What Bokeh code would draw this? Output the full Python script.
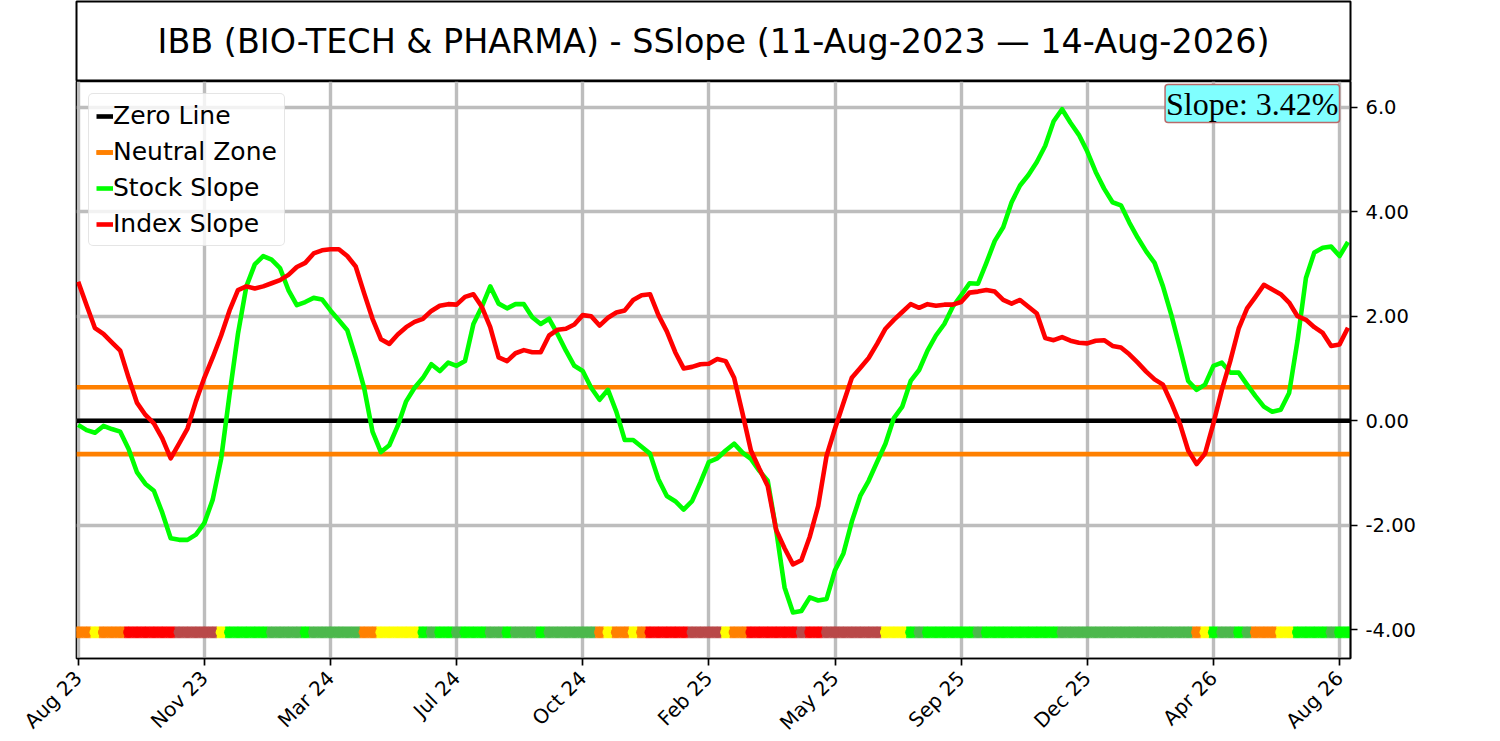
import math
from bokeh.plotting import figure
from bokeh.models import FixedTicker, Label, Legend, LegendItem, Range1d
from bokeh.layouts import column
from bokeh.embed import file_html
from bokeh.resources import INLINE

TITLE = "IBB (BIO-TECH & PHARMA) - SSlope (11-Aug-2023 \u2014 14-Aug-2026)"

tick_index = [0, 15, 30, 45, 60, 75, 90, 105, 120, 135, 150]
tick_labels = ["Aug 23", "Nov 23", "Mar 24", "Jul 24", "Oct 24", "Feb 25",
               "May 25", "Sep 25", "Dec 25", "Apr 26", "Aug 26"]

y_ticks = [-4, -2, 0, 2, 4, 6]
y_tick_labels = ["-4.00", "-2.00", "0.00", "2.00", "4.00", "6.0"]

stock_slope = [
    -0.08, -0.18, -0.23, -0.10, -0.16, -0.21, -0.54, -0.99, -1.21, -1.34,
    -1.76, -2.25, -2.28, -2.28, -2.18, -1.96, -1.51, -0.73, 0.50, 1.66,
    2.57, 2.99, 3.15, 3.08, 2.92, 2.50, 2.21, 2.27, 2.35, 2.32,
    2.11, 1.92, 1.73, 1.21, 0.63, -0.21, -0.60, -0.47, -0.10, 0.37,
    0.63, 0.82, 1.08, 0.95, 1.11, 1.05, 1.14, 1.85, 2.18, 2.57,
    2.24, 2.15, 2.23, 2.23, 1.98, 1.85, 1.95, 1.66, 1.34, 1.05,
    0.95, 0.63, 0.40, 0.59, 0.17, -0.37, -0.37, -0.50, -0.63, -1.12,
    -1.44, -1.54, -1.70, -1.54, -1.18, -0.79, -0.72, -0.57, -0.44, -0.61,
    -0.73, -0.96, -1.15, -2.09, -3.19, -3.67, -3.64, -3.38, -3.44, -3.41,
    -2.86, -2.54, -1.93, -1.44, -1.15, -0.79, -0.44, 0.05, 0.27, 0.76,
    0.97, 1.34, 1.63, 1.85, 2.18, 2.40, 2.63, 2.62, 3.02, 3.44,
    3.70, 4.18, 4.50, 4.70, 4.95, 5.26, 5.73, 5.96, 5.70, 5.47,
    5.15, 4.76, 4.44, 4.18, 4.12, 3.79, 3.50, 3.24, 3.02, 2.57,
    2.02, 1.40, 0.76, 0.59, 0.69, 1.05, 1.11, 0.92, 0.92, 0.69,
    0.47, 0.27, 0.17, 0.21, 0.53, 1.53, 2.73, 3.22, 3.31, 3.33,
    3.15, 3.42,
]

index_slope = [
    2.66, 2.21, 1.77, 1.66, 1.50, 1.34, 0.82, 0.34, 0.11, -0.05,
    -0.34, -0.72, -0.44, -0.15, 0.37, 0.82, 1.21, 1.63, 2.11, 2.50,
    2.57, 2.53, 2.57, 2.63, 2.69, 2.79, 2.94, 3.02, 3.20, 3.26,
    3.28, 3.28, 3.15, 2.95, 2.44, 1.95, 1.56, 1.47, 1.65, 1.79,
    1.89, 1.95, 2.10, 2.20, 2.23, 2.22, 2.37, 2.42, 2.18, 1.79,
    1.21, 1.14, 1.29, 1.35, 1.31, 1.31, 1.63, 1.74, 1.76, 1.84,
    2.02, 2.00, 1.82, 1.97, 2.07, 2.11, 2.31, 2.40, 2.42, 2.02,
    1.71, 1.31, 1.00, 1.03, 1.08, 1.09, 1.18, 1.14, 0.82, 0.14,
    -0.57, -0.92, -1.25, -2.09, -2.44, -2.75, -2.67, -2.22, -1.63, -0.67,
    -0.15, 0.34, 0.82, 1.01, 1.20, 1.47, 1.76, 1.93, 2.08, 2.23,
    2.16, 2.23, 2.20, 2.22, 2.22, 2.27, 2.45, 2.47, 2.50, 2.47,
    2.31, 2.24, 2.31, 2.18, 2.05, 1.58, 1.54, 1.60, 1.53, 1.49,
    1.48, 1.53, 1.54, 1.43, 1.40, 1.27, 1.11, 0.94, 0.79, 0.69,
    0.34, -0.05, -0.57, -0.83, -0.63, -0.05, 0.59, 1.14, 1.76, 2.15,
    2.37, 2.60, 2.51, 2.42, 2.26, 2.00, 1.93, 1.79, 1.68, 1.43,
    1.46, 1.78,
]

# one state code per point: O=orange, Y=yellow, R=red, B=brown-red, G=lime, D=dark green
dot_state = list(
    "OOYOOORRRR" "RRBBBBBYGG" "GGGDDDDGDD" "DDDDOOYYYY" "YGDGGDGGGD"
    "DGDDDGDDDD" "DDOYOOYORR" "RRRBBBBYOO" "RRRRRRBRRB" "BBBBBBYYYG"
    "DGGGGGGDGG" "GGGGGGGDDD" "DDDDDDDDDD" "DDDOYGDDGD" "OOOYYGGGGD"
    "GG"
)

NEUTRAL = 0.64
DOT_LEVEL = -4.05
XLIM = (-0.2, 151.3)
YLIM = (-4.55, 6.49)

STATE_COLORS = {"O": "#ff8000", "Y": "#ffff00", "R": "#ff0000",
                "B": "#b94848", "G": "#00ff00", "D": "#4cb84c"}

x = list(range(len(stock_slope)))
dot_colors = [STATE_COLORS[s] for s in dot_state]
slope_text = f"Slope: {stock_slope[-1]:.2f}%"

FRAME_W = 1274
LEFT = 76
RIGHT = 100
TICK_FONT = "DejaVu Sans"

# ---- title box ----
t = figure(frame_width=FRAME_W, frame_height=80, min_border_left=LEFT,
           min_border_right=RIGHT, min_border_top=1, min_border_bottom=0,
           x_range=Range1d(0, 1), y_range=Range1d(0, 1),
           x_axis_location=None, y_axis_location=None,
           toolbar_location=None, output_backend="svg")
t.grid.visible = False
t.outline_line_color = "black"
t.outline_line_width = 2
t.add_layout(Label(x=0.5, y=0.5, text=TITLE, text_align="center",
                   text_baseline="middle", text_font="DejaVu Sans",
                   text_font_size="33.4px", text_color="black"))

# ---- main plot ----
p = figure(frame_width=FRAME_W, frame_height=577, min_border_left=LEFT,
           min_border_right=RIGHT, min_border_top=0, min_border_bottom=80,
           x_range=Range1d(*XLIM), y_range=Range1d(*YLIM),
           y_axis_location="right", toolbar_location=None,
           output_backend="svg")

p.outline_line_color = "black"
p.outline_line_width = 1.7
p.xgrid.ticker = FixedTicker(ticks=tick_index)
p.ygrid.ticker = FixedTicker(ticks=y_ticks)
p.grid.grid_line_color = "#bdbdbd"
p.grid.grid_line_width = 3.4

p.xaxis.ticker = FixedTicker(ticks=tick_index)
p.xaxis.major_label_overrides = dict(zip(tick_index, tick_labels))
p.xaxis.major_label_orientation = math.pi / 4
p.yaxis.ticker = FixedTicker(ticks=y_ticks)
p.yaxis.major_label_overrides = dict(zip(y_ticks, y_tick_labels))

p.axis.minor_tick_line_color = None
p.axis.major_tick_out = 7
p.axis.major_tick_in = 0
p.axis.axis_line_width = 1.7
p.axis.major_tick_line_width = 1.7
p.axis.major_label_text_font = TICK_FONT
p.axis.major_label_text_color = "black"
p.xaxis.major_label_text_font_size = "20px"
p.yaxis.major_label_text_font_size = "19.5px"
p.xaxis.major_label_standoff = 9
p.yaxis.major_label_standoff = 8

LW = 4.6
zero_r = p.line(list(XLIM), [0, 0], line_color="black", line_width=LW)
nu_r = p.line(list(XLIM), [NEUTRAL, NEUTRAL], line_color="#ff8000", line_width=LW)
nl_r = p.line(list(XLIM), [-NEUTRAL, -NEUTRAL], line_color="#ff8000", line_width=LW)
stock_r = p.line(x, stock_slope, line_color="#00ff00", line_width=LW, line_join="round")
index_r = p.line(x, index_slope, line_color="#ff0000", line_width=LW, line_join="round")

# state strip: a continuous band of per-point cells with rounded dots on top
p.rect(x=x, y=[DOT_LEVEL] * len(x), width=1.0, height=11, height_units="screen",
       fill_color=dot_colors, line_color=dot_colors, line_width=0.6)
p.scatter(x, [DOT_LEVEL] * len(x), size=11, fill_color=dot_colors, line_color=None)

legend = Legend(items=[
    LegendItem(label="Zero Line", renderers=[zero_r]),
    LegendItem(label="Neutral Zone", renderers=[nu_r, nl_r]),
    LegendItem(label="Stock Slope", renderers=[stock_r]),
    LegendItem(label="Index Slope", renderers=[index_r]),
], location="top_left")
legend.label_text_font = "DejaVu Sans"
legend.label_text_font_size = "25px"
legend.label_text_color = "black"
legend.glyph_width = 17
legend.glyph_height = 20
legend.label_standoff = 0
legend.padding = 7
legend.spacing = 7
legend.margin = 12
legend.border_line_color = "#cccccc"
legend.border_line_width = 1.5
legend.background_fill_alpha = 0.8
if "border_radius" in legend.properties():
    legend.border_radius = 5
p.add_layout(legend)

slope_label = Label(x=XLIM[1], y=YLIM[1], x_offset=-11, y_offset=-3,
                    text=slope_text, text_align="right", text_baseline="top",
                    text_font="Liberation Serif", text_font_size="32px",
                    text_color="black", background_fill_color="#80ffff",
                    background_fill_alpha=1.0, border_line_color="#b86a6a",
                    border_line_width=1.5, padding=1)
if "border_radius" in slope_label.properties():
    slope_label.border_radius = 3
p.add_layout(slope_label)

layout = column(t, p, spacing=0)
open("out.html", "w").write(file_html(layout, INLINE))
